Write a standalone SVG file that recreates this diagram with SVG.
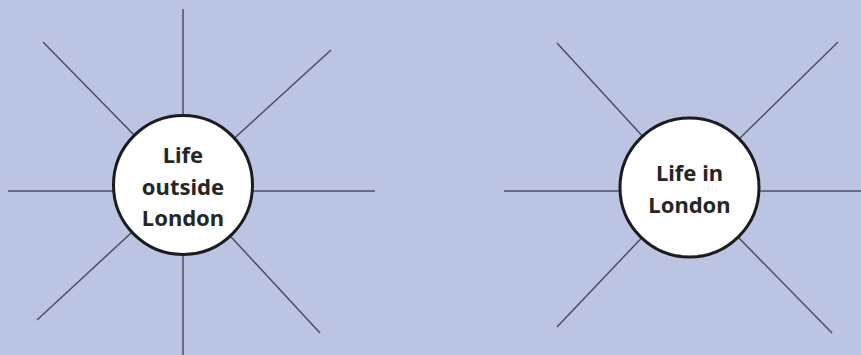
<svg xmlns="http://www.w3.org/2000/svg" width="861" height="355" viewBox="0 0 861 355">
<style>
.ln{stroke:#4b4f63;stroke-width:1.5;fill:none}
.hub{fill:#ffffff;stroke:#1c1c1c;stroke-width:3}
.lbl{font-family:"Noto Sans","Open Sans","Liberation Sans",sans-serif;font-weight:bold;font-size:22px;fill:#262626;text-anchor:middle}
</style>
<rect width="861" height="355" fill="#bbc4e3"/>
<g id="connectors">
<line class="ln" x1="183" y1="9" x2="183" y2="185"/>
<line class="ln" x1="183" y1="185" x2="183" y2="355"/>
<line class="ln" x1="8" y1="191" x2="183" y2="191"/>
<line class="ln" x1="183" y1="191" x2="375" y2="191"/>
<line class="ln" x1="43" y1="42" x2="183" y2="185"/>
<line class="ln" x1="37" y1="320" x2="183" y2="185"/>
<line class="ln" x1="331" y1="50" x2="183" y2="185"/>
<line class="ln" x1="320" y1="333" x2="183" y2="185"/>
<line class="ln" x1="504" y1="191" x2="689" y2="191"/>
<line class="ln" x1="689" y1="191" x2="861" y2="191"/>
<line class="ln" x1="557" y1="43" x2="689.5" y2="187.5"/>
<line class="ln" x1="838" y1="42" x2="689.5" y2="187.5"/>
<line class="ln" x1="557" y1="327" x2="689.5" y2="187.5"/>
<line class="ln" x1="832" y1="333" x2="689.5" y2="187.5"/>
</g>
<g id="node-outside">
<circle class="hub" cx="183" cy="185" r="69.5"/>
<text class="lbl" x="183" y="163">Life</text>
<text class="lbl" x="183" y="195">outside</text>
<text class="lbl" x="183" y="226">London</text>
</g>
<g id="node-in">
<circle class="hub" cx="689.5" cy="187.5" r="69.5"/>
<text class="lbl" x="689.5" y="181">Life in</text>
<text class="lbl" x="689.5" y="213">London</text>
</g>
</svg>
